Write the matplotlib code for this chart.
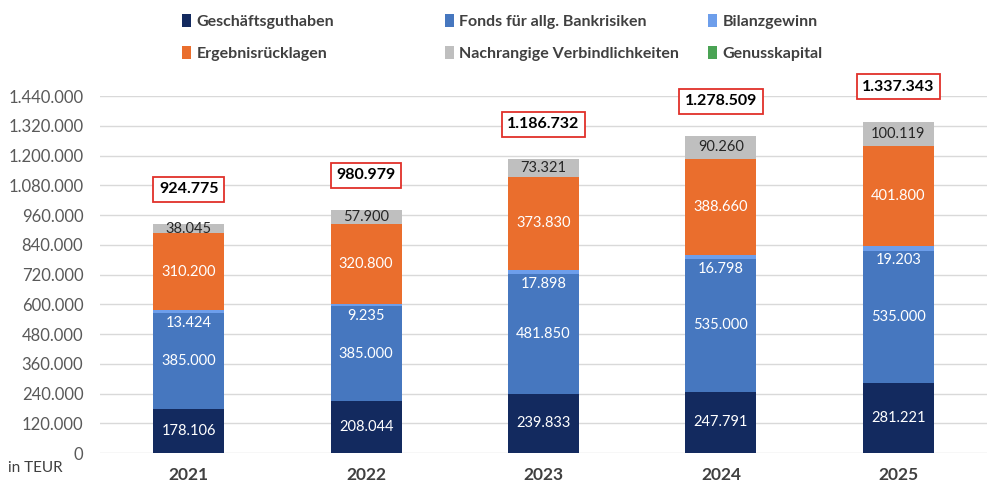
import numpy as np
import matplotlib as mpl
mpl.use('Agg')
import matplotlib.pyplot as plt
from matplotlib.patches import Patch

# data (TEUR)
years = ['2021', '2022', '2023', '2024', '2025']
geschaeftsguthaben = [178106, 208044, 239833, 247791, 281221]
fonds = [385000, 385000, 481850, 535000, 535000]
bilanzgewinn = [13424, 9235, 17898, 16798, 19203]
ergebnisruecklagen = [310200, 320800, 373830, 388660, 401800]
nachrangig = [38045, 57900, 73321, 90260, 100119]
genusskapital = [0, 0, 0, 0, 0]

series = [
    ('Geschäftsguthaben', geschaeftsguthaben, '#132a5f'),
    ('Fonds für allg. Bankrisiken', fonds, '#4677bf'),
    ('Bilanzgewinn', bilanzgewinn, '#6d9eeb'),
    ('Ergebnisrücklagen', ergebnisruecklagen, '#ea6e2d'),
    ('Nachrangige Verbindlichkeiten', nachrangig, '#bfbfbf'),
    ('Genusskapital', genusskapital, '#4aa354'),
]

plt.rcParams['font.family'] = ['Lato', 'DejaVu Sans']

def fmt(v):
    return '{:,.0f}'.format(v).replace(',', '.')

fig = plt.figure(figsize=(9.9, 4.83), dpi=100)
ax = fig.add_axes([0.101, 0.062, 0.896, 0.739])

x = np.arange(len(years))
width = 0.4
bottom = np.zeros(len(years))
handles = []
for name, vals, col in series:
    vals = np.array(vals, dtype=float)
    ax.bar(x, vals, width, bottom=bottom, color=col, zorder=3)
    handles.append(Patch(facecolor=col, label=name))
    for i, v in enumerate(vals):
        if v <= 0:
            continue
        if name == 'Bilanzgewinn':
            # small segment: label sits just below it, inside the Fonds bar
            ax.annotate(fmt(v), (x[i], bottom[i]), xytext=(0, -7),
                        textcoords='offset points', ha='center', va='center',
                        color='white', fontsize=10.5, zorder=5)
        else:
            c = '#262626' if name == 'Nachrangige Verbindlichkeiten' else 'white'
            ax.text(x[i], bottom[i] + v / 2, fmt(v), ha='center', va='center',
                    color=c, fontsize=10.5, zorder=5)
    bottom += vals

# totals in red boxes
for i, t in enumerate(bottom):
    ax.annotate(fmt(t), (x[i], t), xytext=(0, 25), textcoords='offset points',
                ha='center', va='center', fontsize=11.5, fontweight='bold',
                color='black', zorder=6,
                bbox=dict(boxstyle='square,pad=0.35', fc='white', ec='#e0302a', lw=1.3))

ax.set_ylim(0, 1440000)
ax.set_xlim(-0.5, len(years) - 0.5)
ax.set_yticks(np.arange(0, 1440001, 120000))
ax.set_yticklabels([fmt(v) for v in np.arange(0, 1440001, 120000)],
                   color='#595959', fontsize=12)
ax.set_xticks(x)
ax.set_xticklabels(years, fontweight='bold', color='#404040', fontsize=12.5)
ax.tick_params(axis='y', length=0, pad=12)
ax.tick_params(axis='x', length=0, pad=10)
ax.yaxis.grid(True, color='#d9d9d9', lw=1, zorder=0)
for s in ax.spines.values():
    s.set_visible(False)

fig.text(0.008, 0.031, 'in TEUR', color='#404040', fontsize=11, va='center')

# legend in three columns
col_x = [0.181, 0.446, 0.712]
for j in range(3):
    leg = fig.legend(handles=[handles[j], handles[j + 3]], loc='upper left',
                     bbox_to_anchor=(col_x[j], 0.978), frameon=False,
                     borderpad=0.2, borderaxespad=0, labelspacing=1.08,
                     handlelength=0.55, handleheight=0.9, handletextpad=0.35,
                     prop=dict(family='Lato', weight='bold', size=11.5))
    for t in leg.get_texts():
        t.set_color('#404040')

fig.savefig('out.png', dpi=100)
